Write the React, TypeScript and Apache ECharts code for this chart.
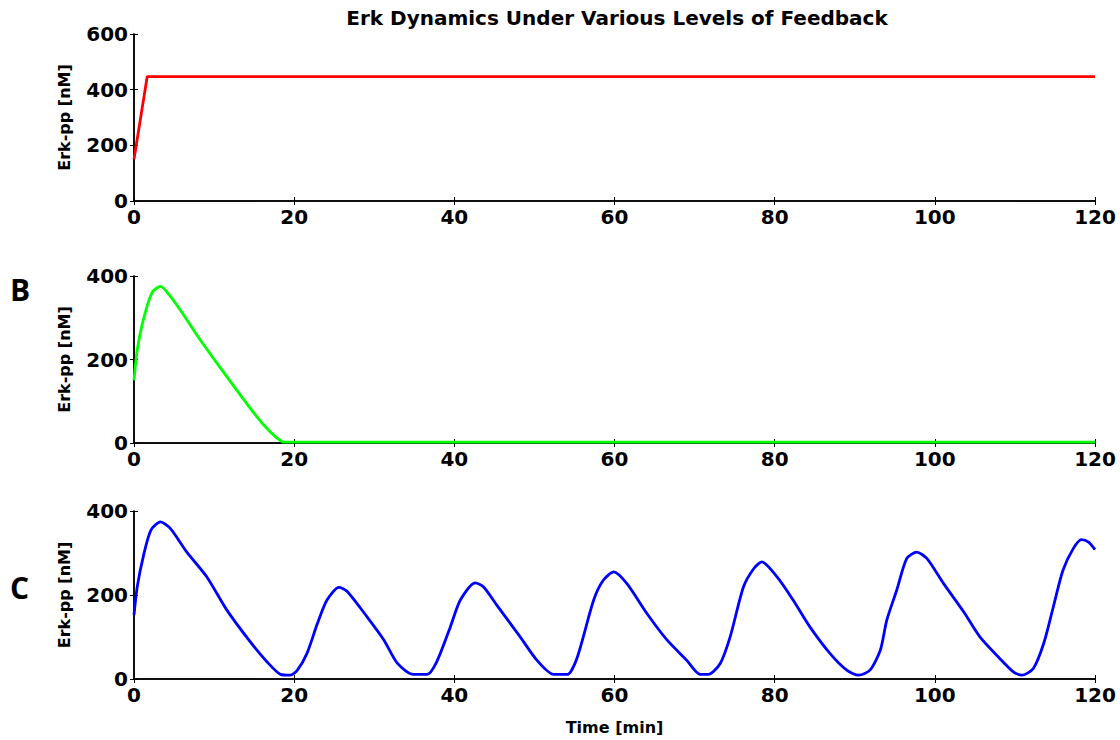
import React, { useEffect, useRef } from "react";
import * as echarts from "echarts";

const xTicks = [0, 20, 40, 60, 80, 100, 120];

const timeA = [0, 1.65, 120];
const erkA = [150, 447, 447];

const timeB = [0, 0.4, 1.2, 2.3, 3.3, 4.1, 5.8, 8.3, 10.4, 12.5, 15, 17, 18.5, 19, 120];
const erkB = [150, 222, 298, 362, 375, 362, 318, 246, 190, 135, 71, 27, 3, 2, 2];

const timeC = [
  0, 0.4, 1.2, 2.1, 3.3, 4.55, 6.6, 9.1, 11.6, 14.5, 16.6, 18.3, 19.5, 20.4, 21.6, 22.9, 24.1, 25.6, 26.6,
  29.1, 31.2, 32.9, 34.9, 36.6, 37.8, 39.5, 40.75, 42.6, 43.65, 45.3, 48.2, 50.3, 52.4, 54.1, 55.3, 57.4,
  58.6, 59.9, 61.55, 64.05, 66.55, 69.0, 70.7, 71.7, 73.2, 74.45, 76.1, 77.4, 78.4, 80.3, 82.3, 84.4, 86.9,
  89.0, 90.5, 91.9, 93.2, 94.0, 95.25, 96.5, 97.75, 99.0, 101.1, 103.6, 105.6, 108.1, 109.8, 110.85, 112.3,
  113.6, 114.8, 116.0, 117.3, 118.3, 119.2, 120,
];
const erkC = [
  152, 219, 295, 354, 374, 358, 302, 243, 164, 89, 41, 11, 9, 21, 61, 132, 188, 218, 209,
  148, 93, 37, 11, 11, 41, 124, 188, 229, 219, 176, 101, 45, 11, 11, 49, 188,
  235, 255, 227, 156, 93, 45, 11, 11, 37, 101, 219, 263, 279, 243, 188, 124, 61,
  21, 9, 21, 69, 140, 212, 287, 302, 287, 227, 160, 101, 49, 17, 9, 25,
  85, 172, 259, 311, 332, 326, 308,
];

const panelMax = [600, 400, 400];
const panelColors = ["#ff0000", "#00ff00", "#0000ff"];
const panelSmooth = [false, 0.2, 0.25];
const panelLetters = ["", "B", "C"];

const FONT = "DejaVu Sans, sans-serif";

export default function App() {
  const ref = useRef<HTMLDivElement>(null);
  useEffect(() => {
    if (!ref.current) return;
    const chart = echarts.init(ref.current, null, { renderer: "svg" });
    const grids = [
      { left: 134, top: 34, width: 961, height: 167 },
      { left: 134, top: 276, width: 961, height: 167 },
      { left: 134, top: 511, width: 961, height: 168 },
    ];
    const xAxis: any[] = [];
    const yAxis: any[] = [];
    grids.forEach((g, i) => {
      xAxis.push({
        type: "value", gridIndex: i, min: xTicks[0], max: xTicks[xTicks.length - 1], interval: 20, position: "bottom",
        axisLine: { show: true, lineStyle: { color: "#000", width: 1.5 } },
        axisTick: { show: true, inside: true, length: 4, lineStyle: { color: "#000" } },
        splitLine: { show: false },
        axisLabel: { color: "#000", fontWeight: "bold", fontSize: 20, fontFamily: FONT, margin: 6 },
        name: i === 2 ? "Time [min]" : "",
        nameLocation: "middle", nameGap: 40,
        nameTextStyle: { color: "#000", fontWeight: "bold", fontSize: 16, fontFamily: FONT },
      });
      xAxis.push({
        type: "value", gridIndex: i, min: xTicks[0], max: xTicks[xTicks.length - 1], interval: 20, position: "top",
        axisLine: { show: true, lineStyle: { color: "#000", width: 1.5 } },
        axisTick: { show: true, inside: true, length: 4, lineStyle: { color: "#000" } },
        splitLine: { show: false }, axisLabel: { show: false },
      });
      yAxis.push({
        type: "value", gridIndex: i, min: 0, max: panelMax[i], interval: 200, position: "left",
        axisLine: { show: true, lineStyle: { color: "#000", width: 1.5 } },
        axisTick: { show: true, inside: true, length: 4, lineStyle: { color: "#000" } },
        splitLine: { show: false },
        axisLabel: { color: "#000", fontWeight: "bold", fontSize: 20, fontFamily: FONT, margin: 6 },
        name: "Erk-pp [nM]", nameLocation: "middle", nameGap: 62,
        nameTextStyle: { color: "#000", fontWeight: "bold", fontSize: 16, fontFamily: FONT },
      });
      yAxis.push({
        type: "value", gridIndex: i, min: 0, max: panelMax[i], interval: 200, position: "right",
        axisLine: { show: true, lineStyle: { color: "#000", width: 1.5 } },
        axisTick: { show: true, inside: true, length: 4, lineStyle: { color: "#000" } },
        splitLine: { show: false }, axisLabel: { show: false },
      });
    });
    const times = [timeA, timeB, timeC];
    const vals = [erkA, erkB, erkC];
    const series = times.map((t, i) => ({
      type: "line", xAxisIndex: i * 2, yAxisIndex: i * 2, symbol: "none",
      smooth: panelSmooth[i],
      data: t.map((x, j) => [x, vals[i][j]]),
      lineStyle: { color: panelColors[i], width: 2.8 },
      itemStyle: { color: panelColors[i] },
    }));
    chart.setOption({
      animation: false,
      backgroundColor: "#fff",
      title: {
        text: "Erk Dynamics Under Various Levels of Feedback",
        left: 612, top: 3, textAlign: "center",
        textStyle: { color: "#000", fontWeight: "bold", fontSize: 20, fontFamily: FONT },
      },
      grid: grids,
      xAxis, yAxis, series,
      graphic: panelLetters.map((l, i) => ({
        type: "text", left: 10, top: i === 1 ? 274 : 572,
        style: { text: l, fill: "#000", font: "bold 30px 'Open Sans', sans-serif" },
      })).filter((g) => g.style.text !== ""),
    });
    return () => chart.dispose();
  }, []);
  return <div ref={ref} style={{ position: "fixed", left: 0, top: 0, width: 1120, height: 740 }} />;
}
